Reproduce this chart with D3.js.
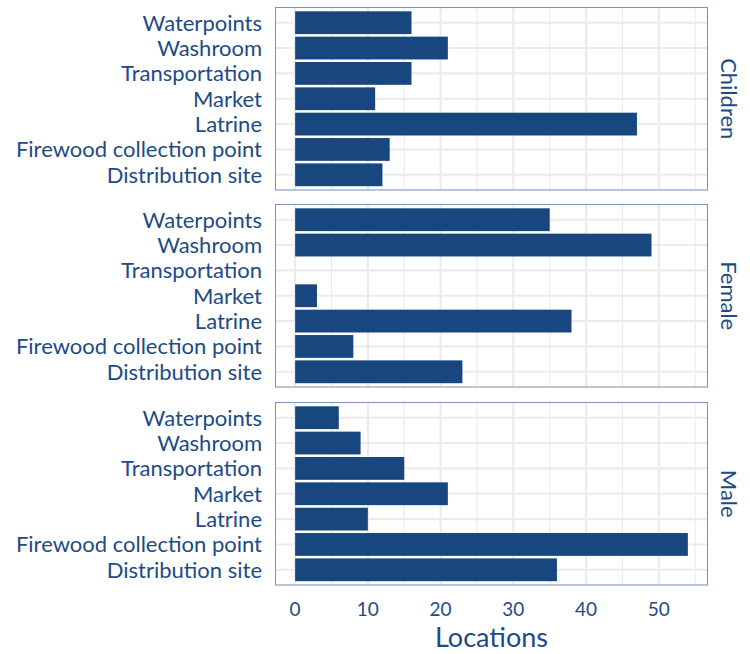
<!DOCTYPE html>
<html><head><meta charset="utf-8">
<script src="https://cdn.jsdelivr.net/npm/d3@7"></script>
<style>html,body{margin:0;padding:0;background:#fff;}svg{display:block;}</style>
</head><body>
<script>
const categories = ["Waterpoints","Washroom","Transportation","Market","Latrine","Firewood collection point","Distribution site"];
const groups = ["Children","Female","Male"];
const childrenValues = [16,21,16,11,47,13,12];
const femaleValues = [35,49,null,3,38,8,23];
const maleValues = [6,9,15,21,10,54,36];
const xTicks = [0,10,20,30,40,50];
const xTitle = "Locations";

const seriesByGroup = {Children: childrenValues, Female: femaleValues, Male: maleValues};

const W = 750, H = 654;
const textColor = "#1d4b85", barColor = "#17477e", borderColor = "#8097bc", gridColor = "#ebebeb";
const font = "Lato, 'Open Sans', sans-serif";

const svg = d3.select("body").append("svg").attr("width", W).attr("height", H);

const left = 275.5, right = 707.5;
const panelTops = [7.5, 204.5, 402.5];
const panelH = 182.5;

const maxV = d3.max([...childrenValues, ...femaleValues, ...maleValues]);
const x = d3.scaleLinear().domain([-0.05*maxV, maxV*1.05]).range([left, right]);

groups.forEach((g, gi) => {
  const top = panelTops[gi];
  const y = d3.scaleBand().domain(categories).range([top, top + panelH]).paddingInner(0.1).paddingOuter(0.15);
  const p = svg.append("g");
  const minor = d3.range(5, 60, 10).filter(v => x(v) < right);
  p.selectAll(".minor").data(minor).join("line")
    .attr("x1", d => x(d)).attr("x2", d => x(d)).attr("y1", top).attr("y2", top + panelH)
    .attr("stroke", gridColor).attr("stroke-width", 1.1);
  p.selectAll(".major").data(xTicks).join("line")
    .attr("x1", d => x(d)).attr("x2", d => x(d)).attr("y1", top).attr("y2", top + panelH)
    .attr("stroke", gridColor).attr("stroke-width", 2.1);
  p.selectAll(".hgrid").data(categories).join("line")
    .attr("x1", left).attr("x2", right)
    .attr("y1", d => y(d) + y.bandwidth()/2).attr("y2", d => y(d) + y.bandwidth()/2)
    .attr("stroke", gridColor).attr("stroke-width", 2.1);
  const vals = seriesByGroup[g];
  p.selectAll(".bar").data(categories.map((c, i) => ({c, v: vals[i]})).filter(d => d.v != null && d.v > 0)).join("rect")
    .attr("x", x(0)).attr("y", d => y(d.c))
    .attr("width", d => x(d.v) - x(0)).attr("height", y.bandwidth())
    .attr("fill", barColor);
  p.append("rect").attr("x", left).attr("y", top).attr("width", right - left).attr("height", panelH)
    .attr("fill", "none").attr("stroke", borderColor).attr("stroke-width", 1.1);
  p.selectAll(".ylab").data(categories).join("text")
    .attr("x", 262).attr("y", d => y(d) + y.bandwidth()/2).attr("dy", "0.36em")
    .attr("text-anchor", "end").attr("fill", textColor)
    .style("font-family", font).style("font-size", "22px").text(d => d);
  const cy = top + panelH/2;
  p.append("text").attr("transform", `translate(721,${cy}) rotate(90)`)
    .attr("text-anchor", "middle").attr("fill", textColor)
    .style("font-family", font).style("font-size", "22px").text(g);
});

svg.selectAll(".xt").data(xTicks).join("text")
  .attr("x", d => x(d)).attr("y", 616).attr("text-anchor", "middle").attr("fill", textColor)
  .style("font-family", font).style("font-size", "19px").text(d => d);

svg.append("text").attr("x", (left + right)/2).attr("y", 647).attr("text-anchor", "middle")
  .attr("fill", textColor).style("font-family", font).style("font-size", "27px").text(xTitle);
</script>
</body></html>
